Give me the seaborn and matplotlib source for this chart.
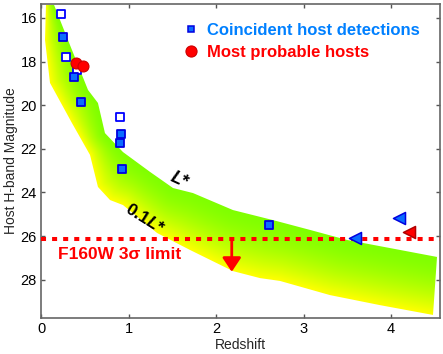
import numpy as np
import matplotlib
matplotlib.use("Agg")
import matplotlib.pyplot as plt
import seaborn as sns
from matplotlib.patches import Polygon
from matplotlib.lines import Line2D

# ---------------- data ----------------
# luminosity band edges (L* upper edge, 0.1L* lower edge)
band_upper_z = [0.149, 0.331, 0.537, 0.651, 0.731, 0.937, 1.246, 1.509, 1.737, 2.194, 2.651, 3.074, 3.497, 4.526]
band_upper_m = [15.40, 17.24, 19.30, 19.90, 21.28, 22.15, 23.06, 23.80, 24.03, 24.81, 25.27, 25.72, 26.18, 26.96]
band_lower_z = [0.057, 0.046, 0.103, 0.354, 0.560, 0.651, 0.789, 0.937, 1.326, 1.703, 2.194, 2.503, 2.731, 3.303, 3.874, 4.480]
band_lower_m = [15.40, 17.01, 18.98, 20.82, 22.28, 23.75, 24.35, 24.58, 25.86, 26.64, 27.61, 27.93, 28.06, 28.71, 29.17, 29.62]

# coincident host detections
filled_z = [0.255, 0.377, 0.457, 0.914, 0.903, 0.920, 2.61]
filled_m = [16.89, 18.72, 19.87, 21.33, 21.75, 22.94, 25.50]
open_z = [0.225, 0.290, 0.410, 0.900]
open_m = [15.82, 17.80, 18.39, 20.55]
blue_tri_z = [3.59, 4.09]
blue_tri_m = [26.10, 25.16]

# most probable hosts
red_z = [0.400, 0.477]
red_m = [18.05, 18.20]
red_tri_z = [4.20]
red_tri_m = [25.80]

limit_mag = 26.15
arrow_z = 2.18
arrow_tip = 27.64

xticks = [0, 1, 2, 3, 4]
yticks = [16, 18, 20, 22, 24, 26, 28]
legend_labels = ["Coincident host detections", "Most probable hosts"]

# ---------------- style ----------------
sns.set_theme(style="ticks")
plt.rcParams["font.family"] = ["Liberation Sans", "DejaVu Sans"]
plt.rcParams["mathtext.fontset"] = "custom"
plt.rcParams["mathtext.rm"] = "Liberation Sans"
plt.rcParams["mathtext.it"] = "Liberation Sans:italic"
plt.rcParams["mathtext.bf"] = "Liberation Sans:bold"
plt.rcParams["mathtext.bfit"] = "Liberation Sans:bold:italic"

XMIN, XMAX = 0.0, 4.56
YTOP, YBOT = 15.36, 29.76
PX_X, PX_Y = 87.5, 21.8  # pixel scale per data unit

fig = plt.figure(figsize=(4.43, 3.54), dpi=100)
ax = fig.add_axes([41 / 443, 36 / 354, 399 / 443, 314 / 354])

# ---------------- gradient band ----------------
up = np.column_stack([band_upper_z, band_upper_m])
lo = np.column_stack([band_lower_z, band_lower_m])

nx, ny = 450, 330
gx = np.linspace(XMIN, XMAX, nx)
gy = np.linspace(YTOP, YBOT, ny)
GX, GY = np.meshgrid(gx, gy)
P = np.column_stack([GX.ravel() * PX_X, GY.ravel() * PX_Y])


def poly_dist(P, pts):
    s = pts * np.array([PX_X, PX_Y])
    d = np.full(len(P), np.inf)
    for a, b in zip(s[:-1], s[1:]):
        ab = b - a
        t = np.clip(((P - a) @ ab) / (ab @ ab), 0, 1)
        proj = a + t[:, None] * ab
        d = np.minimum(d, np.hypot(*(P - proj).T))
    return d


du = poly_dist(P, up)
dl = poly_dist(P, lo)
t = (du / (du + dl + 1e-9)).reshape(ny, nx) ** 1.6
green = np.array([0.50, 1.0, 0.0])
yellow = np.array([1.0, 1.0, 0.0])
img = green[None, None, :] * (1 - t[..., None]) + yellow[None, None, :] * t[..., None]

im = ax.imshow(img, extent=(XMIN, XMAX, YBOT, YTOP), origin="upper",
               aspect="auto", interpolation="bilinear", zorder=1)
poly = Polygon(np.vstack([up, lo[::-1]]), closed=True, transform=ax.transData,
               facecolor="none", edgecolor="none")
ax.add_patch(poly)
im.set_clip_path(poly)

# ---------------- limit line and arrow ----------------
ax.axhline(limit_mag, color="#ff0000", lw=2.9, ls=(0, (1.25, 1.5)),
           dash_capstyle="butt", zorder=3)
ax.annotate("", xy=(arrow_z, arrow_tip), xytext=(arrow_z, limit_mag + 0.05),
            arrowprops=dict(arrowstyle="-|>,head_length=0.42,head_width=0.28",
                            color="#ff0000", lw=2.0, mutation_scale=20,
                            shrinkA=0, shrinkB=0),
            zorder=4)

# ---------------- markers ----------------
sns.scatterplot(x=open_z, y=open_m, marker="s", s=30, color="white",
                edgecolor="#0000ff", linewidth=1.3, ax=ax, zorder=5)
sns.scatterplot(x=filled_z, y=filled_m, marker="s", s=30, color="#0a6cff",
                edgecolor="#0000e0", linewidth=1.3, ax=ax, zorder=6)
sns.scatterplot(x=red_z, y=red_m, marker="o", s=62, color="#ff0000",
                edgecolor="#cc0000", linewidth=0.8, ax=ax, zorder=7)
sns.scatterplot(x=blue_tri_z, y=blue_tri_m, marker="<", s=75, color="#0a6cff",
                edgecolor="#0000e0", linewidth=1.1, ax=ax, zorder=6)
sns.scatterplot(x=red_tri_z, y=red_tri_m, marker="<", s=75, color="#ff0000",
                edgecolor="#b00000", linewidth=1.1, ax=ax, zorder=6)

# ---------------- text ----------------
ax.text(0.19, 26.85, "F160W 3σ limit", color="#ff0000", fontsize=12.5,
        fontweight="bold", ha="left", va="center", zorder=8)
ax.text(1.59, 23.45, r"$\mathbfit{L}$*", fontsize=13, fontweight="bold", rotation=-25,
        ha="center", va="center", color="black", zorder=8)
ax.text(1.19, 25.22, r"$\mathbf{0.1}\mathbfit{L}$*", fontsize=12.5, fontweight="bold",
        rotation=-32, ha="center", va="center", color="black", zorder=8)

# ---------------- legend ----------------
handles = [
    Line2D([], [], ls="", marker="s", ms=5, mfc="#0a6cff", mec="#0000e0", mew=1.1),
    Line2D([], [], ls="", marker="o", ms=8, mfc="#ff0000", mec="#cc0000", mew=0.8),
]
leg = ax.legend(handles, legend_labels, loc="upper left", bbox_to_anchor=(0.358, 0.94),
                frameon=False, borderpad=0, borderaxespad=0, handlelength=0.8,
                handletextpad=0.6, labelspacing=0.42,
                prop=dict(weight="bold", size=12))
for txt, c in zip(leg.get_texts(), ["#0080ff", "#ff0000"]):
    txt.set_color(c)

# ---------------- axes ----------------
ax.set_xlim(XMIN, XMAX)
ax.set_ylim(YBOT, YTOP)
ax.set_xticks(xticks)
ax.set_yticks(yticks)
ax.set_xlabel("Redshift", fontsize=10, labelpad=1)
ax.set_ylabel("Host H-band Magnitude", fontsize=10, labelpad=2)
ax.tick_params(direction="in", length=3, width=1, color="#555555", labelsize=10.5,
               top=True, right=True, pad=3, labelcolor="black")
for sp in ax.spines.values():
    sp.set_visible(True)
    sp.set_color("#666666")
    sp.set_linewidth(1.2)

fig.savefig("out.png", dpi=100)
